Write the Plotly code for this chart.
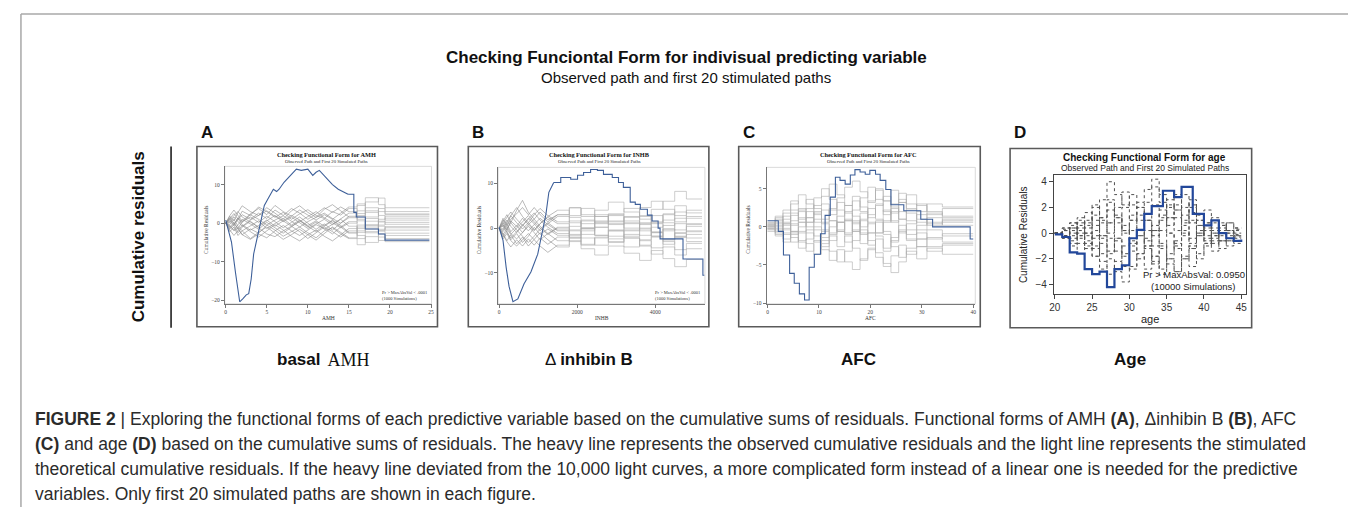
import plotly.graph_objects as go

W, H = 1356, 507

# ---------------- data ----------------
# Panel A: AMH
A_X = [0, 0.5, 1, 1.5, 2, 3, 4, 5, 6, 7, 8, 9, 10, 11, 12, 13, 14, 15, 16, 17, 18.6, 19.4]
A_END = 24.8
A_SIM = [
    [0, 1.2, 2.5, 1.0, 3.1, 2.0, 4.2, 3.0, 1.5, 2.8, 1.0, 2.4, 3.5, 2.0, 1.2, 3.0, 2.1, 3.8, 2.5, 5.5, 6.5, 4.0],
    [0, -0.8, -2.0, -1.2, -3.0, -1.5, -2.6, -0.5, -1.8, -3.4, -2.2, -1.0, -2.5, -3.8, -2.0, -1.2, -2.8, -4.0, -5.6, -3.5, -2.0, -2.6],
    [0, 0.5, -0.6, 1.4, 0.2, 2.2, 1.0, -0.5, 0.8, 1.9, 0.5, -1.0, 0.4, 1.5, 2.6, 1.2, 0.0, 1.8, 0.6, -1.5, 1.0, 1.3],
    [0, -1.5, -0.5, -2.5, -1.0, 0.5, -1.2, -2.8, -3.5, -2.0, -0.8, -2.2, -4.0, -2.6, -1.0, -2.2, -3.6, -2.0, -0.5, -2.5, -4.5, -3.2],
    [0, 1.8, 0.6, 2.8, 4.5, 3.0, 2.0, 4.0, 2.6, 1.0, 3.2, 4.5, 2.8, 1.5, 3.6, 4.8, 3.2, 1.6, 2.0, 4.0, 3.0, 2.2],
    [0, -0.3, 1.0, -0.8, -2.0, -0.6, 0.6, -1.4, -0.2, 1.2, -0.5, 0.8, -1.0, 0.3, -1.6, -0.4, 1.0, -0.8, -2.4, -1.0, 0.5, -0.3],
    [0, 2.0, 3.4, 1.8, 0.5, 2.4, 3.8, 2.2, 4.6, 3.0, 1.8, 3.4, 2.0, 0.8, 2.2, 1.0, 2.6, 4.2, 5.0, 3.2, 2.0, 0.8],
    [0, -2.2, -1.0, -3.2, -2.0, -4.0, -2.4, -1.0, -2.6, -4.2, -3.0, -1.6, -3.0, -1.8, -3.4, -4.6, -3.0, -1.4, -3.2, -5.0, -3.6, -4.8],
    [0, 0.8, 2.0, 3.0, 1.6, 0.4, -1.0, 0.6, 2.0, 0.6, -0.8, 0.4, 1.8, 3.0, 1.4, 0.2, -1.2, 0.0, 1.6, 2.8, -0.5, 0.2],
    [0, -1.0, 0.2, -1.6, -3.0, -4.2, -2.8, -3.8, -2.0, -0.6, -2.0, -3.2, -1.8, -0.4, -1.4, -2.8, -1.0, 0.4, -1.4, 0.5, -1.6, -1.2],
    [0, 1.0, -0.4, 0.8, 2.2, 1.0, 2.6, 1.2, 3.4, 2.0, 3.8, 2.6, 1.0, 2.4, 4.0, 2.8, 4.2, 3.0, 4.6, 6.6, 4.8, 3.0],
    [0, -0.6, -1.8, -0.4, 1.0, -0.2, -1.6, 0.2, -1.2, -2.6, -1.0, 0.6, -0.8, -2.2, -0.6, 0.8, -0.6, -2.4, -4.0, -2.2, -0.8, -1.8],
    [0, 1.4, 0.0, -1.4, 0.4, 1.6, 0.2, 1.8, 0.4, -1.2, 0.2, 1.6, 0.0, -1.6, -0.2, -1.8, 0.0, 1.4, 3.2, 1.6, 3.8, 2.4],
    [0, -1.8, -3.2, -2.0, -0.6, -2.2, -3.6, -2.0, -0.4, -1.8, -3.4, -4.6, -3.0, -4.4, -2.6, -1.0, -2.4, -3.8, -2.0, -0.4, -2.8, -4.0],
    [0, 0.2, 1.6, 0.4, -0.8, 0.8, 2.0, 3.2, 1.8, 0.4, 1.6, 0.2, -1.4, -0.2, 1.0, -0.4, 1.2, 2.6, 1.0, -0.6, -2.0, -0.9],
    [0, -1.2, -0.2, 1.2, -0.4, -1.8, -0.6, 0.8, -0.8, 0.6, 2.0, 0.8, -0.6, 0.6, -0.8, 0.6, -1.0, -2.6, -1.0, 1.2, 0.3, 1.8],
]
A_OBS_X = [0, 0.3, 0.7, 1.2, 1.7, 2.1, 2.5, 2.8, 3.1, 3.4, 3.8, 4.1, 4.5, 4.7, 5.2, 5.8, 6.2, 6.5, 7.1, 7.6,
           8.1, 8.6, 9.2, 10.0, 10.6, 11.0, 11.4, 12.4, 13.0, 13.7, 14.3, 14.9, 15.6, 15.9, 17.0, 18.6, 19.4, 24.8]
A_OBS_Y = [0.8, -2.0, -4.9, -13.0, -20.4, -19.6, -18.6, -18.3, -14.5, -8.0, -4.0, -1.0, 3.0, 4.6, 6.5, 8.8, 8.2, 8.8, 10.6, 11.8,
           13.0, 14.0, 13.7, 14.0, 12.4, 13.2, 13.7, 11.4, 10.0, 8.8, 8.2, 7.5, 2.8, 1.6, -1.5, -2.8, -4.4, -4.4]
A_SPLIT = 15          # jagged (dense) part to the left, plain steps to the right

# Panel B: INHB
B_X = [0, 100, 200, 300, 450, 600, 750, 900, 1050, 1250, 1500, 1800, 2100, 2450, 2800, 3200, 3600, 3900, 4200, 4500, 4800]
B_END = 5200
B_SIM = [
    [0, 1.5, 3.0, 1.2, 4.0, 6.2, 3.5, 2.0, 3.6, 1.8, 3.0, 4.5, 2.6, 4.0, 5.8, 3.6, 2.0, 4.2, 6.0, 8.2, 6.5],
    [0, -1.2, -2.8, -1.5, -3.5, -2.0, -4.0, -2.5, -1.0, -2.6, -4.2, -2.8, -4.6, -6.0, -4.0, -5.6, -7.2, -5.0, -6.8, -8.6, -7.0],
    [0, 0.8, -0.5, 1.6, 0.4, 2.2, 0.8, -0.6, 1.0, 2.4, 1.0, -0.4, 1.6, 3.0, 1.4, 2.6, 0.8, -1.0, 0.6, 2.2, 1.0],
    [0, -2.0, -0.6, -2.6, -1.2, -3.2, -1.8, 0.2, -1.4, -0.2, -1.6, -3.0, -1.4, 0.2, -1.8, -0.4, 1.2, -0.8, -2.6, -1.0, 0.4],
    [0, 2.2, 0.8, 2.8, 4.6, 2.6, 1.2, 3.0, 4.4, 2.8, 1.4, 2.8, 4.4, 2.6, 0.8, 2.4, 4.6, 6.0, 4.2, 2.8, 4.0],
    [0, -0.5, 1.0, -0.8, 0.6, -1.0, 0.8, 2.0, 0.4, -1.2, 0.2, 1.6, 0.0, -1.6, -3.0, -1.4, -2.8, -4.4, -2.6, -1.2, -2.2],
    [0, 1.0, 2.4, 3.6, 2.0, 0.6, 2.2, 1.0, -0.6, 1.0, 2.6, 1.2, -0.2, 1.4, 3.0, 4.4, 2.8, 1.2, 3.0, 1.4, 2.6],
    [0, -1.6, -3.0, -4.2, -2.6, -4.0, -2.4, -3.8, -2.2, -3.6, -2.0, -0.6, -2.2, -3.8, -2.4, -4.2, -2.6, -1.0, -3.0, -4.8, -3.4],
    [0, 0.4, 1.8, 0.4, -1.0, 0.6, 2.0, 3.4, 1.8, 0.2, -1.2, 0.4, 1.8, 0.2, 1.6, 0.0, -1.6, 0.2, 1.8, 3.6, 2.2],
    [0, -0.8, 0.4, -1.2, -2.4, -1.0, 0.4, -1.0, -2.6, -1.2, -2.8, -1.4, 0.0, -1.6, -3.2, -1.8, -0.2, -1.8, -3.6, -2.0, -3.0],
    [0, 1.8, 0.4, 2.0, 3.2, 4.6, 3.0, 4.6, 3.0, 1.4, 3.0, 4.6, 3.0, 1.2, 2.8, 1.0, -0.6, 1.4, 3.2, 5.0, 3.4],
    [0, -1.4, -0.2, 1.2, -0.4, -1.8, -3.2, -1.8, -0.2, 1.2, -0.4, -2.0, -3.6, -2.0, -0.4, 1.2, 2.6, 1.0, -0.6, 1.0, -0.8],
    [0, 0.6, -1.0, -2.2, -0.8, 0.8, -0.6, 0.8, 2.2, 0.8, -0.6, -2.2, -0.6, 1.0, -0.6, -2.2, -4.0, -5.8, -4.2, -6.0, -4.6],
    [0, -0.2, 1.4, 2.8, 1.2, -0.2, 1.2, -0.4, 1.0, 2.6, 4.0, 2.4, 1.0, 2.6, 1.0, -0.6, 1.0, 2.8, 1.2, -0.4, 0.8],
    [0, -2.4, -1.2, -2.8, -4.0, -2.6, -1.2, -2.6, -4.0, -5.4, -3.8, -2.2, -3.8, -2.2, -0.6, -2.2, -3.8, -2.0, -0.2, -1.8, -0.6],
    [0, 1.2, -0.2, -1.4, 0.0, 1.4, 2.8, 1.4, 0.0, -1.4, 0.0, -1.6, 0.0, 1.6, 3.2, 1.6, 0.0, -1.8, -0.2, -2.0, -1.4],
]
B_OBS_X = [0, 100, 180, 255, 355, 480, 640, 815, 990, 1120, 1200, 1275, 1400, 1580, 1835, 2010, 2165, 2345, 2520,
           2675, 2900, 3060, 3185, 3360, 3490, 3620, 3800, 3920, 4075, 4125, 4713, 5223, 5260]
B_OBS_Y = [0.2, -2.7, -8.7, -13.0, -16.4, -15.8, -12.4, -9.8, -5.8, -0.5, 3.1, 8.0, 10.2, 11.3, 10.9, 11.8, 12.4, 13.1, 12.9,
           12.0, 11.3, 10.2, 9.1, 5.8, 5.3, 4.2, 2.9, 1.6, 0.0, -2.4, -6.9, -10.5, -10.5]
B_SPLIT = 1500

# Panel C: AFC
C_X = [0, 1.5, 3, 4.5, 6, 7.5, 9, 10.5, 12, 13.5, 15, 16.5, 18, 19.5, 21, 22.5, 24, 25.5, 27, 29, 31, 34]
C_END = 40
C_SIM = [
    [0.3, 1.0, 0.2, 1.5, 2.4, 1.2, 2.8, 4.0, 5.6, 4.2, 2.8, 4.0, 2.6, 1.2, 2.8, 4.0, 2.6, 1.0, 2.2, 3.0, 2.0, 1.4],
    [-0.2, -0.8, -1.6, -0.6, -2.0, -3.2, -1.8, -3.0, -4.4, -3.0, -4.6, -5.6, -4.2, -2.8, -4.0, -5.2, -3.8, -2.4, -3.6, -2.6, -3.2, -2.4],
    [0.0, 0.6, 1.4, 0.4, -0.6, 0.6, 1.8, 0.4, -1.0, 0.6, 2.0, 3.4, 2.0, 0.6, -0.8, 0.6, 2.0, 3.6, 2.4, 1.0, 0.2, 0.8],
    [0.5, -0.4, 0.6, 1.8, 0.6, -0.8, -2.0, -0.6, 0.8, -0.6, -2.0, -0.4, 1.0, 2.4, 1.0, -0.6, -2.0, -0.6, -1.8, -0.8, -1.6, -0.9],
    [0.2, 1.2, 2.2, 3.4, 2.2, 3.6, 2.4, 1.0, 2.4, 3.8, 5.2, 6.0, 4.6, 3.2, 4.8, 3.4, 1.8, 3.2, 4.2, 2.8, 1.6, 2.4],
    [-0.4, -1.2, -0.2, -1.4, -2.8, -1.6, -0.4, -1.8, -3.2, -4.6, -3.2, -1.8, -0.4, -1.8, -3.4, -4.8, -6.0, -4.6, -3.2, -4.2, -2.8, -3.6],
    [0.0, -0.6, 0.4, -0.8, 0.6, 2.0, 0.6, 2.2, 0.8, -0.6, 0.8, 2.2, 3.8, 5.2, 3.6, 2.0, 0.6, 2.0, 0.8, -0.4, 0.6, 0.2],
    [0.4, 1.4, 0.4, -0.6, -1.8, -0.4, 1.0, -0.4, -1.8, -0.4, 1.0, -0.6, -2.2, -0.8, 0.8, 2.2, 0.8, -0.8, 0.4, 1.6, 0.4, 1.0],
    [-0.6, 0.2, -0.8, -2.0, -0.8, -2.2, -3.6, -2.2, -0.8, 0.6, -0.8, 0.8, -0.8, -2.4, -0.8, 0.8, 2.4, 1.0, -0.4, -1.6, -0.4, -1.2],
    [0.0, 0.8, 1.8, 3.0, 4.2, 3.0, 1.6, 3.0, 1.6, 3.2, 1.8, 0.4, 1.8, 3.4, 5.0, 3.4, 4.8, 3.2, 1.8, 0.6, 1.8, 1.2],
    [0.2, -0.2, -1.0, 0.2, 1.2, 0.0, -1.2, -2.6, -1.2, -2.6, -1.2, -2.8, -4.4, -3.0, -1.6, -3.2, -1.8, -0.4, -1.6, -2.6, -1.4, -2.0],
    [-0.2, 0.4, -0.4, 0.8, 2.0, 0.6, 2.0, 0.6, 2.2, 0.6, -1.0, 0.6, -1.0, 0.4, -1.2, -2.8, -1.4, 0.2, -1.0, 0.2, 1.2, 0.6],
    [0.6, 0.0, 1.0, 2.2, 1.0, 2.4, 3.8, 5.0, 3.6, 2.2, 0.8, -0.6, 0.8, -0.8, 0.6, -1.0, -2.6, -4.0, -2.8, -1.6, -2.6, -2.2],
    [-0.3, -1.0, -2.0, -1.0, 0.0, 1.2, 0.0, -1.4, 0.0, 1.4, 2.8, 1.4, 0.0, 1.6, 3.0, 1.6, 3.0, 4.4, 3.0, 2.0, 3.0, 2.6],
]
C_OBS_X = [0, 2.1, 3.1, 4.3, 5.2, 6.2, 7.2, 8.1, 9.1, 10.3, 11.2, 12.2, 13.2, 14.1, 15.1, 16.1, 17.0, 18.0, 19.0, 19.9,
           21.0, 21.9, 23.0, 24.0, 26.5, 29.8, 32.1, 39.4, 40]
C_OBS_Y = [0.8, -0.6, -3.7, -6.1, -7.4, -8.8, -9.6, -5.3, -3.6, -0.9, 1.5, 3.9, 6.5, 6.1, 5.6, 6.8, 7.5, 7.2, 6.9, 7.4,
           6.9, 6.1, 4.9, 2.9, 2.1, 1.0, 0.0, -1.6, -1.6]

# Panel D: age
D_X = [20, 21, 22, 23, 24, 25, 26, 27, 28, 29, 30, 31, 32, 33, 34, 35, 36, 37, 38, 39, 40, 41, 42, 43, 44]
D_END = 45
D_SIM = [
    [0.0, 0.3, 0.6, 1.2, 0.4, 1.4, 2.6, 4.0, 3.0, 2.2, 1.0, 2.0, 1.0, 0.2, 1.4, 2.6, 1.8, 0.8, 1.6, 0.6, -0.4, 0.4, -0.2, 0.2, -0.1],
    [0.0, -0.2, -0.6, 0.2, -1.0, -1.8, -0.8, -2.0, -3.0, -3.8, -2.6, -1.6, -2.8, -1.8, -0.8, -2.0, -3.0, -2.0, -1.2, -2.0, -1.0, -0.4, -1.2, -0.6, -0.8],
    [0.0, 0.4, -0.2, 0.6, 1.6, 0.6, -0.4, 0.8, 2.0, 3.2, 2.2, 1.0, 2.4, 3.6, 2.4, 1.2, 0.2, 1.4, 2.6, 1.4, 0.4, 1.2, 0.4, 0.8, 0.3],
    [0.0, -0.4, 0.2, -0.8, 0.0, 1.0, -0.2, -1.4, -0.4, 0.6, -0.6, -2.0, -1.0, 0.2, -1.0, -2.4, -3.0, -1.8, -2.6, -1.6, -0.6, -1.4, -0.6, -1.0, -0.6],
    [0.0, 0.2, 0.8, 0.0, -0.8, 0.2, 1.2, 2.4, 1.2, 0.2, 1.4, 2.4, 3.4, 4.2, 3.0, 2.0, 3.0, 2.0, 0.8, -0.2, 0.6, -0.2, 0.6, 0.0, 0.2],
    [0.0, -0.2, -0.8, -1.6, -0.6, -1.8, -2.8, -1.6, -0.6, -1.8, -0.8, 0.2, -0.6, -1.8, -2.8, -1.6, -0.6, 0.6, -0.4, 0.6, -0.2, -0.8, 0.0, -0.4, -0.2],
    [0.0, 0.2, 0.0, 0.8, -0.2, -1.2, -0.2, 0.8, -0.4, -1.6, -2.8, -1.6, -0.4, 0.6, 1.8, 0.6, 1.8, 3.0, 2.0, 1.0, 1.8, 0.8, 0.2, 0.8, 0.4],
    [0.0, -0.3, 0.4, -0.4, 0.8, 2.0, 1.0, 0.0, 1.2, 0.0, 1.0, -0.2, -1.2, -2.4, -1.2, 0.0, -1.2, -0.2, 1.0, 0.0, -0.8, -0.2, 0.6, -0.2, 0.0],
    [0.0, 0.4, 0.8, -0.2, 0.6, -0.4, -1.6, -0.4, -1.4, -2.6, -1.4, -0.2, 1.0, -0.2, 1.0, 2.2, 1.2, 0.0, -1.2, -0.2, 0.8, 0.0, -0.6, 0.2, -0.3],
    [0.0, -0.4, -1.0, -0.2, -1.2, -0.2, 0.8, 1.8, 0.8, 2.0, 3.0, 2.0, 1.0, 2.2, 1.2, 0.0, -1.0, 0.2, -0.8, 0.2, -0.8, 0.0, -0.6, 0.0, -0.4],
    [0.0, 0.2, -0.4, 0.4, 1.0, 2.2, 1.2, 2.6, 1.4, 0.2, -1.0, 0.2, -1.0, -2.2, -3.2, -2.0, -0.8, -2.0, -1.0, 0.0, 0.8, 0.2, 0.8, 0.2, 0.4],
    [0.0, -0.2, 0.4, 1.0, 0.0, -1.0, -2.2, -3.2, -2.2, -1.0, 0.2, 1.4, 0.2, -1.0, 0.2, 1.2, 2.2, 1.0, 2.2, 1.0, 0.2, -0.6, 0.0, -0.6, -0.2],
]
D_OBS_X = [20, 21, 22, 23, 24, 25, 26, 27, 28, 29, 30, 31, 32, 33, 34.5, 36, 37, 38.5, 40, 41, 42, 43, 44, 45]
D_OBS_Y = [-0.1, -0.3, -1.5, -1.6, -2.8, -3.2, -3.0, -4.2, -2.8, -2.5, -0.4, 0.25, 1.5, 2.1, 3.3, 2.8, 3.6, 1.5, 0.6, 1.0, 0.0, -0.4, -0.6, -0.5]

PANEL_LETTERS = ["A", "B", "C", "D"]
PANEL_TITLES = ["Checking Functional Form for AMH", "Checking Functional Form for INHB",
                "Checking Functional Form for AFC", "Checking Functional Form for age"]
PANEL_XLABELS = ["AMH", "INHB", "AFC", "age"]
A_XTICKS = [0, 5, 10, 15, 20, 25]
A_YTICKS = [-20, -10, 0, 10]
B_XTICKS = [0, 2000, 4000]
B_YTICKS = [-10, 0, 10]
C_XTICKS = [0, 10, 20, 30, 40]
C_YTICKS = [-10, -5, 0, 5]
D_XTICKS = [20, 25, 30, 35, 40, 45]
D_YTICKS = [-4, -2, 0, 2, 4]

CAPTION = [
    "<b>FIGURE 2</b> | Exploring the functional forms of each predictive variable based on the cumulative sums of residuals. "
    "Functional forms of AMH <b>(A)</b>, \u0394inhibin B <b>(B)</b>, AFC",
    "<b>(C)</b> and age <b>(D)</b> based on the cumulative sums of residuals. The heavy line represents the observed "
    "cumulative residuals and the light line represents the stimulated",
    "theoretical cumulative residuals. If the heavy line deviated from the 10,000 light curves, a more complicated form "
    "instead of a linear one is needed for the predictive",
    "variables. Only first 20 simulated paths are shown in each figure.",
]

SANS = "Liberation Sans, Arial, sans-serif"
SERIF = "Liberation Serif, Times New Roman, serif"


def px(x):
    return x / W


def py(y):
    return 1 - y / H


def split_path(xs, ys, cut):
    # jagged head drawn point to point, the sparse tail as steps
    k = max(i for i, v in enumerate(xs) if v <= cut)
    return (xs[:k + 1], ys[:k + 1]), (xs[k:], ys[k:])


fig = go.Figure()

panels = [
    dict(box=(185, 139, 427, 320), plot=(213, 159, 421, 297), xr=[-0.12, 25.06], yr=[-20.93, 14.73],
         xt=A_XTICKS, yt=A_YTICKS, sims=A_SIM, sx=A_X, end=A_END, ox=A_OBS_X, oy=A_OBS_Y, cut=A_SPLIT),
    dict(box=(458, 139, 700, 320), plot=(488, 160, 696, 297), xr=[-25, 5274], yr=[-16.89, 13.56],
         xt=B_XTICKS, yt=B_YTICKS, sims=B_SIM, sx=B_X, end=B_END, ox=B_OBS_X, oy=B_OBS_Y, cut=B_SPLIT),
    dict(box=(730, 139, 973, 320), plot=(758, 160, 968, 297), xr=[-0.19, 40.4], yr=[-10.1, 7.8],
         xt=C_XTICKS, yt=C_YTICKS, sims=C_SIM, sx=C_X, end=C_END, ox=C_OBS_X, oy=C_OBS_Y, cut=None),
    dict(box=(1003, 141, 1246, 321), plot=(1047, 168, 1240, 287), xr=[19.87, 45.6], yr=[-4.73, 4.5],
         xt=D_XTICKS, yt=D_YTICKS, sims=D_SIM, sx=D_X, end=D_END, ox=D_OBS_X, oy=D_OBS_Y, cut=None),
]

shapes = []
annotations = []
layout_axes = {}


def add_path(xs, ys, xa, ya, line, cut, head_color=None):
    if cut is None:
        parts = [(xs, ys, "hv", line)]
    else:
        (hx, hy), (tx, ty) = split_path(xs, ys, cut)
        head = dict(line, color=head_color) if head_color else line
        parts = [(hx, hy, "linear", head), (tx, ty, "hv", line)]
    for x, y, shape, ln in parts:
        fig.add_trace(go.Scatter(x=x, y=y, mode="lines", line=dict(shape=shape, **ln),
                                 xaxis=xa, yaxis=ya, showlegend=False, hoverinfo="skip"))


for i, p in enumerate(panels):
    n = i + 1
    xa = "x" if n == 1 else f"x{n}"
    ya = "y" if n == 1 else f"y{n}"
    modern = (n == 4)
    x0, y0, x1, y1 = p["plot"]

    sim_line = dict(color="#505050", width=1, dash="dot") if modern else dict(color="#acacac", width=0.6)
    for path in p["sims"]:
        add_path(p["sx"] + [p["end"]], path + [path[-1]], xa, ya, sim_line, p["cut"], head_color="#8c8c8c")
    obs_line = dict(color="#22479a", width=2.2) if modern else dict(color="#3d5f99", width=1.1)
    add_path(p["ox"], p["oy"], xa, ya, obs_line, p["cut"])

    tickfont = dict(family=SANS, size=10, color="#333") if modern else dict(family=SERIF, size=5.5, color="#444")
    common = dict(showgrid=False, zeroline=False, showline=True, ticks="outside",
                  linecolor="#444" if modern else "#777", linewidth=1 if modern else 0.8,
                  tickcolor="#444" if modern else "#777", ticklen=4 if modern else 3,
                  tickwidth=1 if modern else 0.8, tickfont=tickfont, mirror=modern, fixedrange=True)
    layout_axes["xaxis" if n == 1 else f"xaxis{n}"] = dict(
        domain=[px(x0), px(x1)], range=p["xr"], tickvals=p["xt"], anchor=ya, **common)
    layout_axes["yaxis" if n == 1 else f"yaxis{n}"] = dict(
        domain=[py(y1), py(y0)], range=p["yr"], tickvals=p["yt"], anchor=xa, **common)

    bx0, by0, bx1, by1 = p["box"]
    shapes.append(dict(type="rect", xref="paper", yref="paper", x0=px(bx0), x1=px(bx1), y0=py(by1), y1=py(by0),
                       line=dict(color="#5a5a5a", width=1.6)))
    if not modern:
        shapes.append(dict(type="rect", xref="paper", yref="paper", x0=px(x0), x1=px(x1), y0=py(y1), y1=py(y0),
                           line=dict(color="#d0d0d0", width=0.8), layer="below"))

    cx = (x0 + x1) / 2
    annotations.append(dict(text=f"<b>{PANEL_LETTERS[i]}</b>", x=px(bx0 + 2), y=py(125), xanchor="left",
                            font=dict(family=SANS, size=17, color="#111")))
    if modern:
        annotations += [
            dict(text=f"<b>{PANEL_TITLES[i]}</b>", x=px(cx - 5), y=py(150), font=dict(family=SANS, size=10, color="#111")),
            dict(text="Observed Path and First 20 Simulated Paths", x=px(cx - 5), y=py(161),
                 font=dict(family=SANS, size=8.5, color="#222")),
            dict(text="Cumulative Residuals", x=px(1016), y=py(228), textangle=-90,
                 font=dict(family=SANS, size=10, color="#222")),
            dict(text=PANEL_XLABELS[i], x=px(cx), y=py(312), font=dict(family=SANS, size=11, color="#222")),
            dict(text="Pr > MaxAbsVal: 0.0950", x=px(1188), y=py(268), font=dict(family=SANS, size=9.5, color="#222")),
            dict(text="(10000 Simulations)", x=px(1188), y=py(280), font=dict(family=SANS, size=9.5, color="#222")),
        ]
    else:
        annotations += [
            dict(text=f"<b>{PANEL_TITLES[i]}</b>", x=px(cx - 2), y=py(147), font=dict(family=SERIF, size=6.3, color="#111")),
            dict(text="Observed Path and First 20 Simulated Paths", x=px(cx - 2), y=py(154),
                 font=dict(family=SERIF, size=4.7, color="#222")),
            dict(text="Cumulative Residuals", x=px(x0 - 19), y=py(223), textangle=-90,
                 font=dict(family=SERIF, size=5.5, color="#333")),
            dict(text=PANEL_XLABELS[i], x=px(cx), y=py(311), font=dict(family=SERIF, size=5.5, color="#333")),
        ]
        if n < 3:
            annotations += [
                dict(text="Pr > MaxAbsVal < .0001", x=px(x1 - 52), y=py(286), xanchor="left",
                     font=dict(family=SERIF, size=4.5, color="#333")),
                dict(text="(1000 Simulations)", x=px(x1 - 52), y=py(292), xanchor="left",
                     font=dict(family=SERIF, size=4.5, color="#333")),
            ]

# header and row label
annotations += [
    dict(text="<b>Checking Funciontal Form for indivisual predicting variable</b>", x=px(677), y=py(50),
         font=dict(family=SANS, size=17, color="#111")),
    dict(text="Observed path and first 20 stimulated paths", x=px(677), y=py(70),
         font=dict(family=SANS, size=15, color="#111")),
    dict(text="<b>Cumulative residuals</b>", x=px(126), y=py(230), textangle=-90,
         font=dict(family=SANS, size=17, color="#111")),
]

# labels under the panels
annotations += [
    dict(text="<b>basal</b>", x=px(311), y=py(353), xanchor="right", font=dict(family=SANS, size=17, color="#111")),
    dict(text=" AMH", x=px(311), y=py(353), xanchor="left", font=dict(family=SERIF, size=18, color="#111")),
    dict(text="\u0394 <b>inhibin B</b>", x=px(579), y=py(353), font=dict(family=SANS, size=17, color="#111")),
    dict(text="<b>AFC</b>", x=px(851), y=py(353), font=dict(family=SANS, size=17, color="#111")),
    dict(text="<b>Age</b>", x=px(1124), y=py(353), font=dict(family=SANS, size=17, color="#111")),
]

for k, line in enumerate(CAPTION):
    annotations.append(dict(text=line, x=px(20), y=py(413 + 25 * k), xanchor="left",
                            font=dict(family=SANS, size=17.5, color="#2b2b2b")))

for a in annotations:
    a.setdefault("xref", "paper")
    a.setdefault("yref", "paper")
    a.setdefault("showarrow", False)
    a.setdefault("xanchor", "center")
    a.setdefault("yanchor", "middle")

shapes.append(dict(type="line", xref="paper", yref="paper", x0=px(159), x1=px(159), y0=py(321), y1=py(139),
                   line=dict(color="#111", width=1.5)))
for (ax, ay), (bx, by) in [((8, 6), (1352, 6)), ((8, 6), (8, 507)), ((1352, 6), (1352, 507))]:
    shapes.append(dict(type="line", xref="paper", yref="paper", x0=px(ax), y0=py(ay), x1=px(bx), y1=py(by),
                       line=dict(color="#a8a8a8", width=1.5)))

fig.update_layout(
    width=W, height=H, margin=dict(l=0, r=0, t=0, b=0),
    paper_bgcolor="white", plot_bgcolor="white",
    showlegend=False, shapes=shapes, annotations=annotations,
    **layout_axes,
)

fig.write_html("out.html")
